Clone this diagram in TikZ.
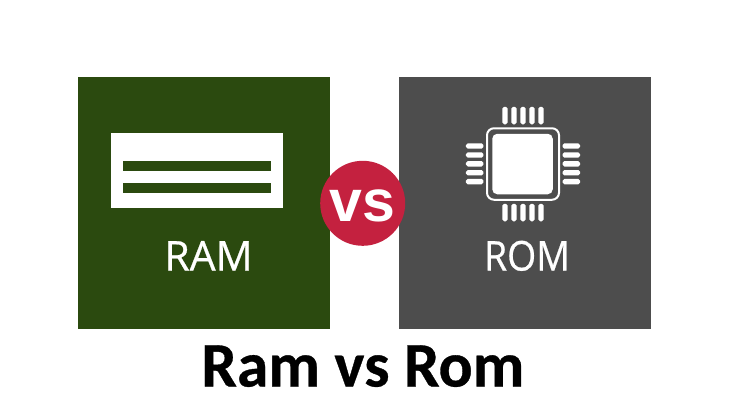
\documentclass[tikz,border=0pt]{standalone}
\usepackage{fontspec}
\setmainfont{Open Sans}
\newfontfamily\wordfont[FakeBold=0.6]{Open Sans}
\newfontfamily\titlefont[BoldFeatures={FakeBold=0.5}]{Carlito}
\newfontfamily\vsfont{Liberation Sans}
\definecolor{ramgreen}{HTML}{2B4A0F}
\definecolor{romgray}{HTML}{4D4D4D}
\definecolor{vsred}{HTML}{C4213F}
\tikzset{
  panel/.style={rectangle, inner sep=0, minimum width=252pt, minimum height=252pt},
  box/.style={rectangle, inner sep=0, fill=white},
  bar/.style={rectangle, inner sep=0, fill=ramgreen, minimum width=148pt, minimum height=10.5pt},
  pinv/.style={rectangle, inner sep=0, fill=white, rounded corners=1.8pt, minimum width=5.4pt, minimum height=17.5pt},
  pinh/.style={rectangle, inner sep=0, fill=white, rounded corners=1.8pt, minimum width=17.5pt, minimum height=5.4pt},
  word/.style={text=white, inner sep=0, anchor=base, font=\wordfont\fontsize{41}{41}\selectfont},
}
\begin{document}
\begin{tikzpicture}[x=1pt, y=-1pt]
\useasboundingbox (0,0) rectangle (730,410);
\node[panel, fill=ramgreen] (ram) at (204,203){};
\node[panel, fill=romgray] (rom) at (525,203){};
\node[box, minimum width=171.5pt, minimum height=75.5pt] (stick) at (197,170.5){};
\node[bar] (bar0) at (196.7,165.8){};
\node[bar] (bar1) at (196.7,188.2){};
\node[word] (ramtext) at (208.5,270.5){RAM};
\node[word, xscale=0.91] (romtext) at (527,270.5){ROM};
\node[rectangle, inner sep=0, draw=white, line width=2pt, rounded corners=7pt, minimum width=72pt, minimum height=71.5pt] (chip) at (523,164){};
\node[box, rounded corners=5pt, minimum width=60.5pt, minimum height=60.5pt] (core) at (522.5,164){};
\node[pinv] (top0) at (505,115.5){};
\node[pinv] (top1) at (514,115.5){};
\node[pinv] (top2) at (523,115.5){};
\node[pinv] (top3) at (532,115.5){};
\node[pinv] (top4) at (541,115.5){};
\node[pinv] (bot0) at (505,212.5){};
\node[pinv] (bot1) at (514,212.5){};
\node[pinv] (bot2) at (523,212.5){};
\node[pinv] (bot3) at (532,212.5){};
\node[pinv] (bot4) at (541,212.5){};
\node[pinh] (lft0) at (474.7,146){};
\node[pinh] (lft1) at (474.7,155){};
\node[pinh] (lft2) at (474.7,163.8){};
\node[pinh] (lft3) at (474.7,172.7){};
\node[pinh] (lft4) at (474.7,181.6){};
\node[pinh] (rgt0) at (571.3,146){};
\node[pinh] (rgt1) at (571.3,155){};
\node[pinh] (rgt2) at (571.3,163.8){};
\node[pinh] (rgt3) at (571.3,172.7){};
\node[pinh] (rgt4) at (571.3,181.6){};
\node[circle, inner sep=0, fill=vsred, minimum size=85pt] (vsdot) at (362.7,203.3){};
\node[text=white, inner sep=0, anchor=base, font=\vsfont\bfseries\fontsize{59}{59}\selectfont] (vstext) at (362.3,221.2){vs};
\node[text=black, inner sep=0, anchor=base, font=\titlefont\bfseries\fontsize{63.5}{63.5}\selectfont] (title) at (362.8,386.5){Ram vs Rom};
\end{tikzpicture}
\end{document}
